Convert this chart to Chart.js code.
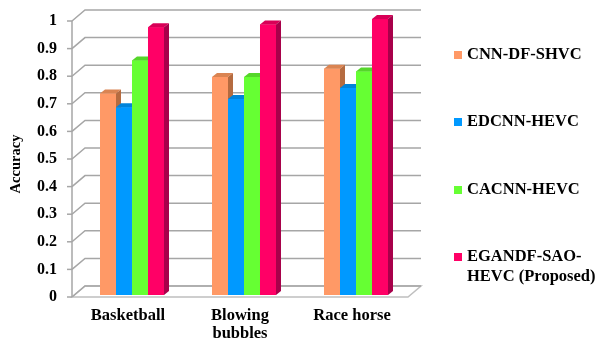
<!DOCTYPE html>
<html>
<head>
<meta charset="utf-8">
<script src="https://cdn.jsdelivr.net/npm/chart.js@4/dist/chart.umd.min.js"></script>
<style>
  html, body { margin: 0; padding: 0; background: #fff; }
  canvas { display: block; }
</style>
</head>
<body>
<canvas id="chart" width="600" height="347"></canvas>
<script>
// Sequences and methods
const categories = [['Basketball'], ['Blowing', 'bubbles'], ['Race horse']];
const seriesNames = [['CNN-DF-SHVC'], ['EDCNN-HEVC'], ['CACNN-HEVC'], ['EGANDF-SAO-', 'HEVC (Proposed)']];
const cnnDfShvc   = [0.73, 0.79, 0.82];
const edcnnHevc   = [0.68, 0.71, 0.75];
const cacnnHevc   = [0.85, 0.79, 0.81];
const egandfSao   = [0.97, 0.98, 1.00];
const yTicks = [0, 0.1, 0.2, 0.3, 0.4, 0.5, 0.6, 0.7, 0.8, 0.9, 1];

// front / top / side shades of each series
const palette = [
  { front: '#FF9966', top: '#DA8452', side: '#B56B40' },
  { front: '#0099FF', top: '#0083DA', side: '#006DB8' },
  { front: '#66FF33', top: '#55D62A', side: '#45B022' },
  { front: '#FF0066', top: '#D80057', side: '#A8004A' }
];

const FONT = "'Liberation Serif', 'Times New Roman', serif";
const BAR_DEPTH = { dx: 5, dy: -4 };   // visible depth of each column
const FRONT = { dx: -4, dy: 2 };       // front plane of the axis box
const BACK = { dx: 9, dy: -9 };        // back wall of the axis box

const frame3d = {
  id: 'frame3d',
  beforeDatasetsDraw(chart) {
    const { ctx, chartArea: a, scales: { y } } = chart;
    ctx.save();
    // floor
    ctx.beginPath();
    ctx.moveTo(a.left + FRONT.dx, a.bottom + FRONT.dy);
    ctx.lineTo(a.right + FRONT.dx, a.bottom + FRONT.dy);
    ctx.lineTo(a.right + BACK.dx, a.bottom + BACK.dy);
    ctx.lineTo(a.left + BACK.dx, a.bottom + BACK.dy);
    ctx.closePath();
    ctx.fillStyle = '#FFFFFF';
    ctx.fill();
    ctx.strokeStyle = '#BFBFBF';
    ctx.lineWidth = 1.5;
    ctx.stroke();

    // gridlines on back wall and side wall
    ctx.strokeStyle = '#A6A6A6';
    ctx.lineWidth = 1.5;
    yTicks.forEach(v => {
      const py = y.getPixelForValue(v);
      ctx.beginPath();
      ctx.moveTo(a.left + FRONT.dx, py + FRONT.dy);
      ctx.lineTo(a.left + BACK.dx, py + BACK.dy);
      ctx.lineTo(a.right + BACK.dx, py + BACK.dy);
      ctx.stroke();
      // tick mark
      ctx.beginPath();
      ctx.moveTo(a.left + FRONT.dx - 5, py + FRONT.dy);
      ctx.lineTo(a.left + FRONT.dx, py + FRONT.dy);
      ctx.stroke();
    });
    // front value axis
    ctx.beginPath();
    ctx.moveTo(a.left + FRONT.dx, y.getPixelForValue(1) + FRONT.dy);
    ctx.lineTo(a.left + FRONT.dx, a.bottom + FRONT.dy);
    ctx.stroke();

    // tick labels
    ctx.fillStyle = '#000';
    ctx.font = 'bold 16px ' + FONT;
    ctx.textAlign = 'right';
    ctx.textBaseline = 'middle';
    yTicks.forEach(v => {
      ctx.fillText(String(v), a.left - 19, y.getPixelForValue(v) + FRONT.dy);
    });

    // axis title
    ctx.save();
    ctx.translate(16, 164);
    ctx.rotate(-Math.PI / 2);
    ctx.textAlign = 'center';
    ctx.font = 'bold 14.5px ' + FONT;
    ctx.fillText('Accuracy', 0, 0);
    ctx.restore();
    ctx.restore();
  },
  afterDatasetsDraw(chart) {
    const { ctx, scales: { x } } = chart;
    ctx.save();
    // columns, left to right so each front face hides the previous side face
    categories.forEach((cat, i) => {
      chart.data.datasets.forEach((ds, d) => {
        const el = chart.getDatasetMeta(d).data[i];
        const l = el.x - el.width / 2, r = el.x + el.width / 2;
        const t = el.y, b = el.base;
        const c = palette[d];
        ctx.fillStyle = c.front;
        ctx.fillRect(l, t, r - l, b - t);
        ctx.beginPath();
        ctx.moveTo(l, t);
        ctx.lineTo(r, t);
        ctx.lineTo(r + BAR_DEPTH.dx, t + BAR_DEPTH.dy);
        ctx.lineTo(l + BAR_DEPTH.dx, t + BAR_DEPTH.dy);
        ctx.closePath();
        ctx.fillStyle = c.top;
        ctx.fill();
        ctx.beginPath();
        ctx.moveTo(r, t);
        ctx.lineTo(r + BAR_DEPTH.dx, t + BAR_DEPTH.dy);
        ctx.lineTo(r + BAR_DEPTH.dx, b + BAR_DEPTH.dy);
        ctx.lineTo(r, b);
        ctx.closePath();
        ctx.fillStyle = c.side;
        ctx.fill();
      });
      // category label
      ctx.fillStyle = '#000';
      ctx.font = 'bold 16.5px ' + FONT;
      ctx.textAlign = 'center';
      ctx.textBaseline = 'middle';
      cat.forEach((line, k) => {
        ctx.fillText(line, x.getPixelForValue(i) + FRONT.dx, 316 + k * 18);
      });
    });

    // legend
    ctx.font = 'bold 16.5px ' + FONT;
    ctx.textAlign = 'left';
    ctx.textBaseline = 'middle';
    const rows = [55, 122, 190, 257];
    seriesNames.forEach((lines, d) => {
      ctx.fillStyle = palette[d].front;
      ctx.fillRect(454, rows[d] - 4, 8, 8);
      ctx.fillStyle = '#000';
      lines.forEach((line, k) => ctx.fillText(line, 467, rows[d] + k * 20));
    });
    ctx.restore();
  }
};

new Chart(document.getElementById('chart'), {
  type: 'bar',
  data: {
    labels: categories,
    datasets: [cnnDfShvc, edcnnHevc, cacnnHevc, egandfSao].map((vals, d) => ({
      label: seriesNames[d].join(''),
      data: vals,
      backgroundColor: palette[d].front,
      borderWidth: 0,
      barPercentage: 1,
      categoryPercentage: 0.5714
    }))
  },
  options: {
    responsive: false,
    devicePixelRatio: 1,
    animation: false,
    layout: { padding: { left: 76, right: 188, top: 19, bottom: 52 } },
    plugins: { legend: { display: false }, tooltip: { enabled: false } },
    scales: {
      x: { display: false },
      y: { display: false, min: 0, max: 1 }
    }
  },
  plugins: [frame3d]
});
</script>
</body>
</html>
